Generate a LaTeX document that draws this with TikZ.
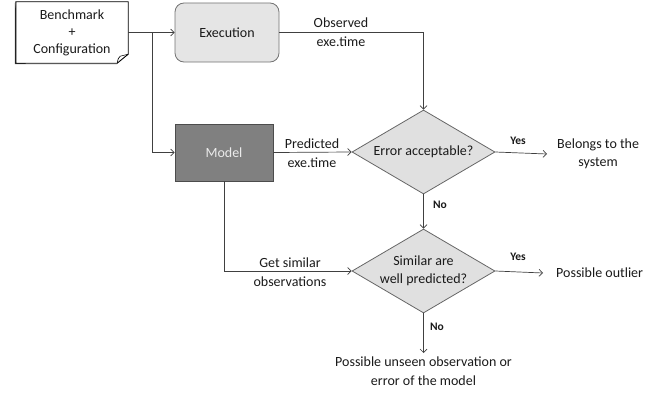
\documentclass[tikz,border=0pt]{standalone}
\usepackage{fontspec}
\setmainfont{Carlito}
\usetikzlibrary{arrows.meta,shapes.geometric,calc}
\definecolor{linec}{HTML}{404040}
\definecolor{txtc}{HTML}{1A1A1A}
\begin{document}
\begin{tikzpicture}[x=1pt,y=-1pt,
  line/.style={draw=linec, line width=0.7pt},
  arr/.style={line, -{Straight Barb[length=3.5pt,width=7pt]}},
  lbl/.style={align=center, font=\fontsize{14}{18.5}\selectfont, text=txtc, inner sep=2pt},
  endlbl/.style={lbl, inner xsep=10pt},
  yn/.style={font=\bfseries\fontsize{11.5}{13}\selectfont, text=txtc},
  dia/.style={diamond, draw=black!60, fill=black!12, line width=0.8pt, minimum width=143pt, minimum height=84pt, inner sep=0pt}]
\useasboundingbox (0,0) rectangle (660,396);
% Benchmark document
\node[minimum width=112pt, minimum height=61pt, inner sep=0pt] (bench) at (72,32.5) {};
\fill[black!70] ($(bench.north west)+(-1,1)$) -- ($(bench.south west)+(-1,1)$) -- ($(bench.south east)+(-11,1)$) -- ($(bench.south west)+(10,1)$) -- cycle;
\draw[black, line width=0.9pt, fill=white] (bench.north west) -- (bench.north east) -- ($(bench.south east)+(0,-9)$) -- ($(bench.south east)+(-11,0)$) -- (bench.south west) -- cycle;
\draw[black, line width=0.6pt] ($(bench.south east)+(-11,0)$) .. controls ($(bench.south east)+(-10,-5)$) .. ($(bench.south east)+(-8,-7)$) -- ($(bench.south east)+(0,-9)$);
\node[align=center, font=\fontsize{14}{17}\selectfont, text=txtc] (benchtxt) at (bench.center) {Benchmark\\+\\Configuration};
% Execution
\node[draw=black!55, fill=black!10, rounded corners=9pt, line width=0.8pt, minimum width=104pt, minimum height=59pt, inner sep=0pt, font=\fontsize{14}{16}\selectfont, text=txtc] (exec) at (227,32.5) {Execution};
% Model
\node[draw=black!70, fill=black!50, line width=0.8pt, minimum width=98pt, minimum height=57pt, inner sep=0pt, font=\fontsize{14}{16}\selectfont, text=white!92!black] (model) at (224,152.5) {Model};
% Diamonds
\node[dia, label={[lbl]center:Error acceptable?}] (d1) at (423.5,152) {};
\node[dia, label={[lbl]center:Similar are\\well predicted?}] (d2) at (423.5,271) {};
% end texts
\node[endlbl, anchor=west] (belongs) at (547,154) {Belongs to the\\system};
\node[lbl, inner xsep=13pt, anchor=west] (outlier) at (543,273) {Possible outlier};
\node[lbl, anchor=north, inner ysep=4pt] (unseen) at (423.5,353) {Possible unseen observation or\\error of the model};
% connectors
\coordinate (j) at (152,32.5);
\draw[arr] (bench.east) -- (exec.west);
\draw[arr] (j) |- (model.west);
\draw[arr] (exec.east) -| (d1.north);
\draw[arr] (model.east) -- (d1.west);
\draw[arr] (d1.east) -- (belongs.west);
\draw[arr] (d1.south) -- (d2.north);
\draw[arr] (model.south) |- (d2.west);
\draw[arr] (d2.east) -- (outlier.west);
\draw[arr] (d2.south) -- (unseen.north);
% labels
\node[lbl] (lobs) at (341,32) {Observed\\exe.time};
\node[lbl] (lpred) at (312,153) {Predicted\\exe.time};
\node[lbl] (lget) at (290,272) {Get similar\\observations};
\node[yn] (y1) at (518,141) {Yes};
\node[yn] (y2) at (518,257) {Yes};
\node[yn] (n1) at (440,205) {No};
\node[yn] (n2) at (437,327) {No};
\end{tikzpicture}
\end{document}
